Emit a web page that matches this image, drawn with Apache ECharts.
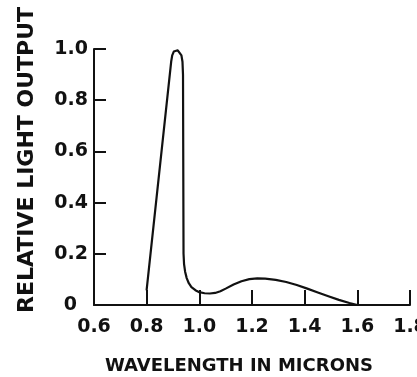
<!DOCTYPE html>
<html>
<head>
<meta charset="utf-8">
<script src="https://cdn.jsdelivr.net/npm/echarts@6/dist/echarts.min.js"></script>
<style>html,body{margin:0;padding:0;background:#fff}#c{width:417px;height:377px}</style>
</head>
<body>
<div id="c"></div>
<script>
var wavelength = [0.80, 0.893, 0.897, 0.903, 0.910, 0.918, 0.925, 0.932, 0.936, 0.938, 0.940, 0.942, 0.946, 0.952, 0.960, 0.970, 0.985, 1.00, 1.02, 1.04, 1.06, 1.08, 1.10, 1.13, 1.16, 1.19, 1.22, 1.25, 1.29, 1.33, 1.37, 1.41, 1.45, 1.49, 1.53, 1.57, 1.60];
var lightOutput = [0.06, 0.95, 0.975, 0.99, 0.995, 0.995, 0.99, 0.975, 0.95, 0.90, 0.20, 0.16, 0.13, 0.105, 0.085, 0.070, 0.058, 0.050, 0.046, 0.045, 0.047, 0.054, 0.064, 0.080, 0.093, 0.101, 0.104, 0.103, 0.098, 0.090, 0.078, 0.064, 0.049, 0.034, 0.020, 0.008, 0.0];
var xTicks = [0.6, 0.8, 1.0, 1.2, 1.4, 1.6, 1.8];
var yTicks = [0, 0.2, 0.4, 0.6, 0.8, 1.0];
var xTitle = 'WAVELENGTH IN MICRONS';
var yTitle = 'RELATIVE LIGHT OUTPUT';

var pts = wavelength.map(function (x, i) { return [x, lightOutput[i]]; });
var ink = '#111';
var chart = echarts.init(document.getElementById('c'), null, {renderer: 'canvas'});
chart.setOption({
  animation: false,
  backgroundColor: '#fff',
  grid: {left: 94, right: 7, top: 49, bottom: 72, containLabel: false, outerBoundsMode: 'none'},
  xAxis: {
    type: 'value', min: xTicks[0], max: xTicks[xTicks.length - 1], interval: 0.2,
    name: xTitle, nameLocation: 'middle', nameGap: 52,
    nameTextStyle: {color: ink, fontFamily: 'DejaVu Sans', fontWeight: 'bold', fontSize: 18, padding: [0, 26, 0, 0]},
    axisLine: {lineStyle: {color: ink, width: 2}},
    axisTick: {inside: true, length: 15, lineStyle: {color: ink, width: 2}},
    splitLine: {show: false},
    axisLabel: {color: ink, fontFamily: 'DejaVu Sans', fontWeight: 'bold', fontSize: 19, margin: 13,
      showMaxLabel: true, showMinLabel: true,
      formatter: function (v) { return v.toFixed(1); }}
  },
  yAxis: {
    type: 'value', min: yTicks[0], max: yTicks[yTicks.length - 1], interval: 0.2,
    name: yTitle, nameLocation: 'middle', nameGap: 56, nameRotate: 90,
    nameTextStyle: {color: ink, fontFamily: 'DejaVu Sans', fontWeight: 'bold', fontSize: 22, padding: [0, 0, 0, 34]},
    axisLine: {show: true, lineStyle: {color: ink, width: 2}},
    axisTick: {show: true, inside: true, length: 12, lineStyle: {color: ink, width: 2}},
    splitLine: {show: false},
    axisLabel: {color: ink, fontFamily: 'DejaVu Sans', fontWeight: 'bold', fontSize: 19, margin: 6,
      formatter: function (v) { return v === 0 ? '{z|0}' : v.toFixed(1); },
      rich: {z: {color: ink, fontFamily: 'DejaVu Sans', fontWeight: 'bold', fontSize: 19, padding: [0, 11, 0, 0]}}}
  },
  series: [{
    type: 'line', data: pts, smooth: false, showSymbol: false,
    lineStyle: {color: ink, width: 2.2, join: 'round', cap: 'round'}
  }]
});
</script>
</body>
</html>
